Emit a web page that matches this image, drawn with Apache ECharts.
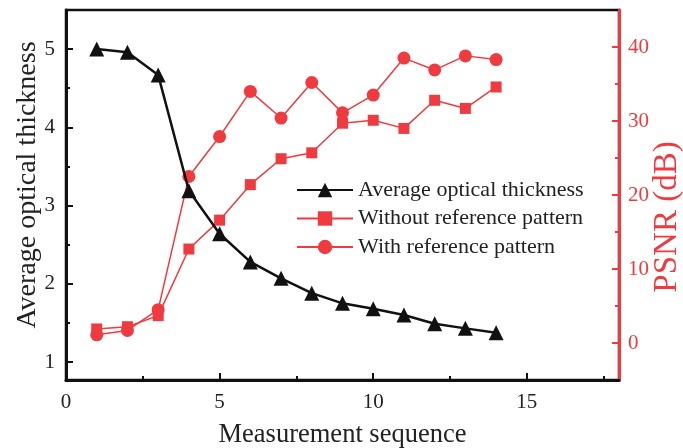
<!DOCTYPE html>
<html><head><meta charset="utf-8">
<script src="https://cdn.jsdelivr.net/npm/echarts@6/dist/echarts.min.js"></script>
<style>html,body{margin:0;padding:0;background:#fff}#c{width:683px;height:448px}</style>
</head><body><div id="c"></div>
<script>
const seq = [1,2,3,4,5,6,7,8,9,10,11,12,13,14];
const thickness = [5.0,4.96,4.67,3.19,2.64,2.28,2.07,1.88,1.75,1.68,1.60,1.49,1.43,1.375];
const withoutRef = [1.9,2.2,3.7,12.7,16.6,21.4,24.9,25.7,29.7,30.1,29.0,32.8,31.7,34.6];
const withRef = [1.1,1.7,4.5,22.5,27.9,34.0,30.4,35.2,31.1,33.5,38.5,36.9,38.8,38.3];
const xMajor = [0,5,10,15];
const xMinor = [2.5,7.5,12.5,17.5];
const leftMajor = [1,2,3,4,5];
const leftMinor = [1.5,2.5,3.5,4.5];
const rightMajor = [0,10,20,30,40];
const rightMinor = [5,15,25,35];
const names = ['Average optical thickness','Without reference pattern','With reference pattern'];

const RED = '#ef3b3f';
const FONT = 'Liberation Serif';
const pair = a => a.map((v,i)=>[seq[i], v]);

const chart = echarts.init(document.getElementById('c'), null, {renderer:'canvas'});
const baseX = {type:'value', min:0, max:18, gridIndex:0};
chart.setOption({
  animation:false,
  grid:{left:66, top:10, right:64, bottom:68, containLabel:false, outerBoundsMode:'none',
        show:true, borderColor:'#111', borderWidth:2.5, backgroundColor:'transparent'},
  legend:{
    orient:'vertical', left:291, top:174, itemWidth:56, itemHeight:18, itemGap:6.5,
    data:names,
    textStyle:{fontFamily:FONT, fontSize:22, color:'#222'}
  },
  xAxis:[
    Object.assign({}, baseX, {
      position:'bottom',
      name:'Measurement sequence', nameLocation:'middle', nameGap:42,
      nameTextStyle:{fontFamily:FONT, fontSize:26.5, color:'#222'},
      axisLine:{show:true, onZero:false, lineStyle:{color:'#111', width:3}},
      axisTick:{show:true, inside:true, length:7, lineStyle:{color:'#111', width:2}, customValues:xMajor},
      axisLabel:{fontFamily:FONT, fontSize:21, color:'#222', margin:12, customValues:xMajor},
      splitLine:{show:false}
    }),
    Object.assign({}, baseX, {
      position:'bottom',
      axisLine:{show:false, onZero:false},
      axisTick:{show:true, inside:true, length:4, lineStyle:{color:'#111', width:2}, customValues:xMinor},
      axisLabel:{show:false},
      splitLine:{show:false}
    })
  ],
  yAxis:[
    {
      type:'value', min:0.77, max:5.5, position:'left',
      name:'Average optical thickness', nameLocation:'middle', nameGap:24, nameRotate:90, nameMoveOverlap:false,
      nameTextStyle:{fontFamily:FONT, fontSize:28, color:'#222', padding:[0,0,0,20]},
      axisLine:{show:true, onZero:false, lineStyle:{color:'#111', width:3}},
      axisTick:{show:true, inside:true, length:7, lineStyle:{color:'#111', width:2}, customValues:leftMajor},
      axisLabel:{fontFamily:FONT, fontSize:21, color:'#222', margin:11, customValues:leftMajor},
      splitLine:{show:false}
    },
    {
      type:'value', min:-5, max:45, position:'right',
      name:'PSNR (dB)', nameLocation:'middle', nameGap:32, nameRotate:90, nameMoveOverlap:false,
      nameTextStyle:{fontFamily:FONT, fontSize:33, color:RED, padding:[0,44,0,0]},
      axisLine:{show:true, onZero:false, lineStyle:{color:RED, width:3}},
      axisTick:{show:true, inside:true, length:7, lineStyle:{color:RED, width:2}, customValues:rightMajor},
      axisLabel:{fontFamily:FONT, fontSize:21, color:RED, margin:9, customValues:rightMajor},
      splitLine:{show:false}
    },
    {
      type:'value', min:0.77, max:5.5, position:'left',
      axisLine:{show:false, onZero:false},
      axisTick:{show:true, inside:true, length:4, lineStyle:{color:'#111', width:2}, customValues:leftMinor},
      axisLabel:{show:false}, splitLine:{show:false}
    },
    {
      type:'value', min:-5, max:45, position:'right',
      axisLine:{show:false, onZero:false},
      axisTick:{show:true, inside:true, length:4, lineStyle:{color:RED, width:2}, customValues:rightMinor},
      axisLabel:{show:false}, splitLine:{show:false}
    }
  ],
  series:[
    {
      name:names[0], type:'line', xAxisIndex:0, yAxisIndex:0, data:pair(thickness),
      symbol:'triangle', symbolSize:15,
      lineStyle:{color:'#111', width:2.5}, itemStyle:{color:'#111'}, z:3
    },
    {
      name:names[1], type:'line', xAxisIndex:0, yAxisIndex:1, data:pair(withoutRef),
      symbol:'rect', symbolSize:11,
      lineStyle:{color:RED, width:1.5}, itemStyle:{color:RED}, z:2
    },
    {
      name:names[2], type:'line', xAxisIndex:0, yAxisIndex:1, data:pair(withRef),
      symbol:'circle', symbolSize:13,
      lineStyle:{color:RED, width:1.5}, itemStyle:{color:RED}, z:2
    }
  ]
});
</script></body></html>
